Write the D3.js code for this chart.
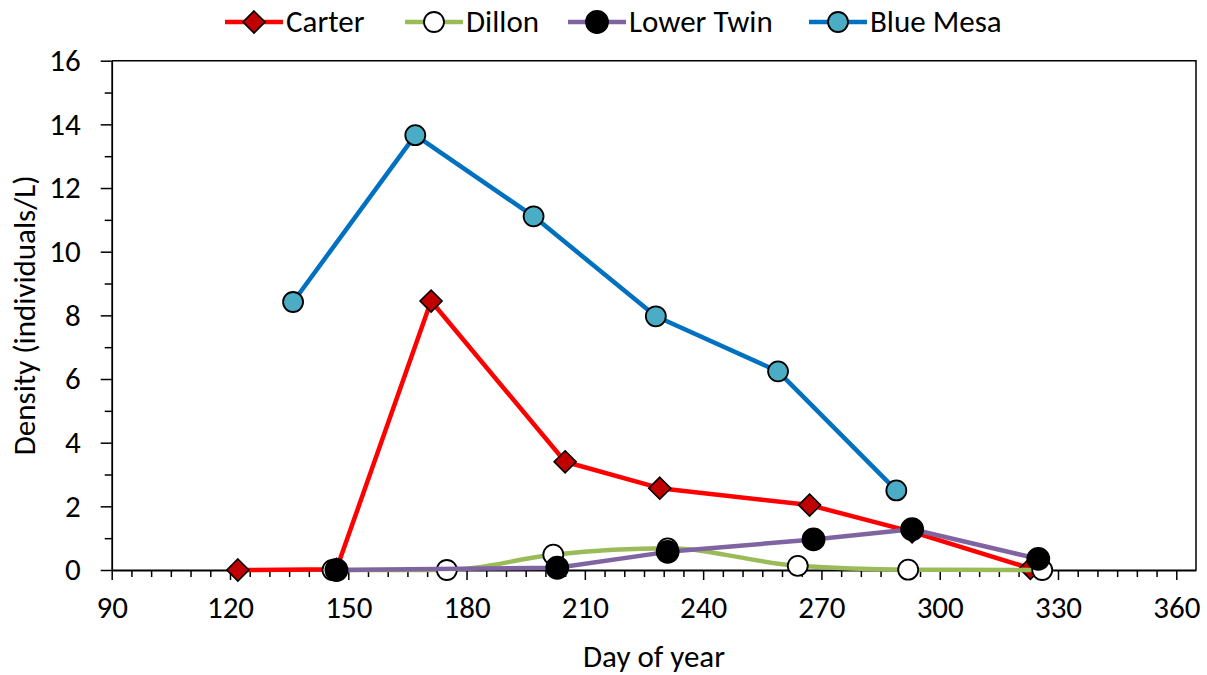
<!DOCTYPE html>
<meta charset="utf-8">
<html>
    <head>
        <title>Density by day of year</title>
        <style>
            body { margin: 0; background: #fff; }
            text { font-family: Carlito, Calibri, Lato, sans-serif; fill: #000; }
        </style>
    </head>
    <body>
        <div id="viz"></div>

        <script src="https://cdnjs.cloudflare.com/ajax/libs/d3/7.8.5/d3.min.js"></script>
        <script>
            // values
            var carterDay = [122, 147, 171, 205, 229, 267, 293, 323];
            var carterDensity = [0, 0.02, 8.45, 3.40, 2.57, 2.04, 1.20, 0.05];

            var dillonDay = [146, 175, 202, 231, 264, 292, 326];
            var dillonDensity = [0, 0, 0.48, 0.68, 0.13, 0.01, 0];

            var lowerTwinDay = [147, 203, 231, 268, 293, 325];
            var lowerTwinDensity = [0, 0.07, 0.57, 0.96, 1.28, 0.35];

            var blueMesaDay = [136, 167, 197, 228, 259, 289];
            var blueMesaDensity = [8.42, 13.66, 11.11, 7.97, 6.24, 2.50];

            var xTicks = [90, 120, 150, 180, 210, 240, 270, 300, 330, 360];
            var yTicks = [0, 2, 4, 6, 8, 10, 12, 14, 16];

            var width = 1207, height = 675;
            var plotLeft = 111.7, plotRight = 1196, plotTop = 60.7, plotBottom = 570;
            var fontSize = 31;

            var svg = d3.select("#viz")
                .append("svg")
                .attr("width", width)
                .attr("height", height);

            var x = d3.scaleLinear().domain([90, 365]).range([plotLeft, plotRight]);
            var y = d3.scaleLinear().domain([0, 16]).range([plotBottom, plotTop]);

            // minor ticks
            var xMinor = d3.range(95, 365, 5).filter(function (d) { return xTicks.indexOf(d) < 0; });
            var yMinor = d3.range(1, 16, 2);

            svg.append("g")
                .attr("transform", "translate(0," + plotBottom + ")")
                .call(d3.axisBottom(x).tickValues(xMinor).tickSize(7).tickFormat(""))
                .call(function (g) { g.select(".domain").remove(); })
                .selectAll("line").attr("stroke-width", 1.5);

            svg.append("g")
                .attr("transform", "translate(" + plotLeft + ",0)")
                .call(d3.axisLeft(y).tickValues(yMinor).tickSize(7).tickFormat(""))
                .call(function (g) { g.select(".domain").remove(); })
                .selectAll("line").attr("stroke-width", 1.5);

            // major axes
            var xAxis = svg.append("g")
                .attr("transform", "translate(0," + plotBottom + ")")
                .call(d3.axisBottom(x).tickValues(xTicks).tickSize(10).tickSizeOuter(0).tickPadding(16));
            xAxis.select(".domain").attr("stroke-width", 1.8);
            xAxis.selectAll("line").attr("stroke-width", 1.5);
            xAxis.selectAll("text").attr("font-size", fontSize).attr("font-family", null);

            var yAxis = svg.append("g")
                .attr("transform", "translate(" + plotLeft + ",0)")
                .call(d3.axisLeft(y).tickValues(yTicks).tickSize(11).tickSizeOuter(0).tickPadding(20));
            yAxis.select(".domain").attr("stroke-width", 1.8);
            yAxis.selectAll("line").attr("stroke-width", 1.5);
            yAxis.selectAll("text").attr("font-size", fontSize).attr("font-family", null);

            // plot frame, top and right
            svg.append("path")
                .attr("d", "M" + plotLeft + "," + plotTop + "H" + plotRight + "V" + plotBottom)
                .attr("fill", "none")
                .attr("stroke", "#000")
                .attr("stroke-width", 1.5);

            // axis titles
            svg.append("text")
                .attr("x", 654)
                .attr("y", 667)
                .attr("text-anchor", "middle")
                .attr("font-size", fontSize)
                .text("Day of year");

            svg.append("text")
                .attr("transform", "translate(35," + (plotTop + plotBottom) / 2 + ") rotate(-90)")
                .attr("text-anchor", "middle")
                .attr("font-size", fontSize)
                .text("Density (individuals/L)");

            var series = [
                { name: "Carter", days: carterDay, values: carterDensity, line: "#ff0000",
                  marker: "diamond", fill: "#c00000", curve: d3.curveLinear },
                { name: "Dillon", days: dillonDay, values: dillonDensity, line: "#9bbb59",
                  marker: "circle", fill: "#ffffff", curve: d3.curveMonotoneX },
                { name: "Lower Twin", days: lowerTwinDay, values: lowerTwinDensity, line: "#8064a2",
                  marker: "circle", fill: "#000000", curve: d3.curveLinear, r: 11 },
                { name: "Blue Mesa", days: blueMesaDay, values: blueMesaDensity, line: "#0070c0",
                  marker: "circle", fill: "#4bacc6", curve: d3.curveLinear }
            ];

            function drawMarker(g, s, cx, cy) {
                if (s.marker == "diamond") {
                    g.append("path")
                        .attr("d", "M" + cx + "," + (cy - 11) + "L" + (cx + 11) + "," + cy +
                            "L" + cx + "," + (cy + 11) + "L" + (cx - 11) + "," + cy + "Z")
                        .attr("fill", s.fill)
                        .attr("stroke", "#000")
                        .attr("stroke-width", 1.6);
                } else {
                    g.append("circle")
                        .attr("cx", cx)
                        .attr("cy", cy)
                        .attr("r", s.r || 10)
                        .attr("fill", s.fill)
                        .attr("stroke", "#000")
                        .attr("stroke-width", 1.8);
                }
            }

            series.forEach(function (s) {
                var pts = s.days.map(function (d, i) { return [d, s.values[i]]; });
                var g = svg.append("g");
                g.append("path")
                    .datum(pts)
                    .attr("d", d3.line()
                        .x(function (d) { return x(d[0]); })
                        .y(function (d) { return y(d[1]); })
                        .curve(s.curve))
                    .attr("fill", "none")
                    .attr("stroke", s.line)
                    .attr("stroke-width", 4.5)
                    .attr("stroke-linejoin", "round");
                pts.forEach(function (p) { drawMarker(g, s, x(p[0]), y(p[1])); });
            });

            // legend
            var legendX = [225, 405, 568, 809];
            series.forEach(function (s, i) {
                var g = svg.append("g").attr("transform", "translate(" + legendX[i] + ",22)");
                g.append("line")
                    .attr("x1", 0).attr("x2", 58)
                    .attr("stroke", s.line)
                    .attr("stroke-width", 4.5);
                drawMarker(g, s, 29, 0);
                g.append("text")
                    .attr("x", 61)
                    .attr("y", 10)
                    .attr("font-size", fontSize)
                    .text(s.name);
            });
        </script>
    </body>
</html>
